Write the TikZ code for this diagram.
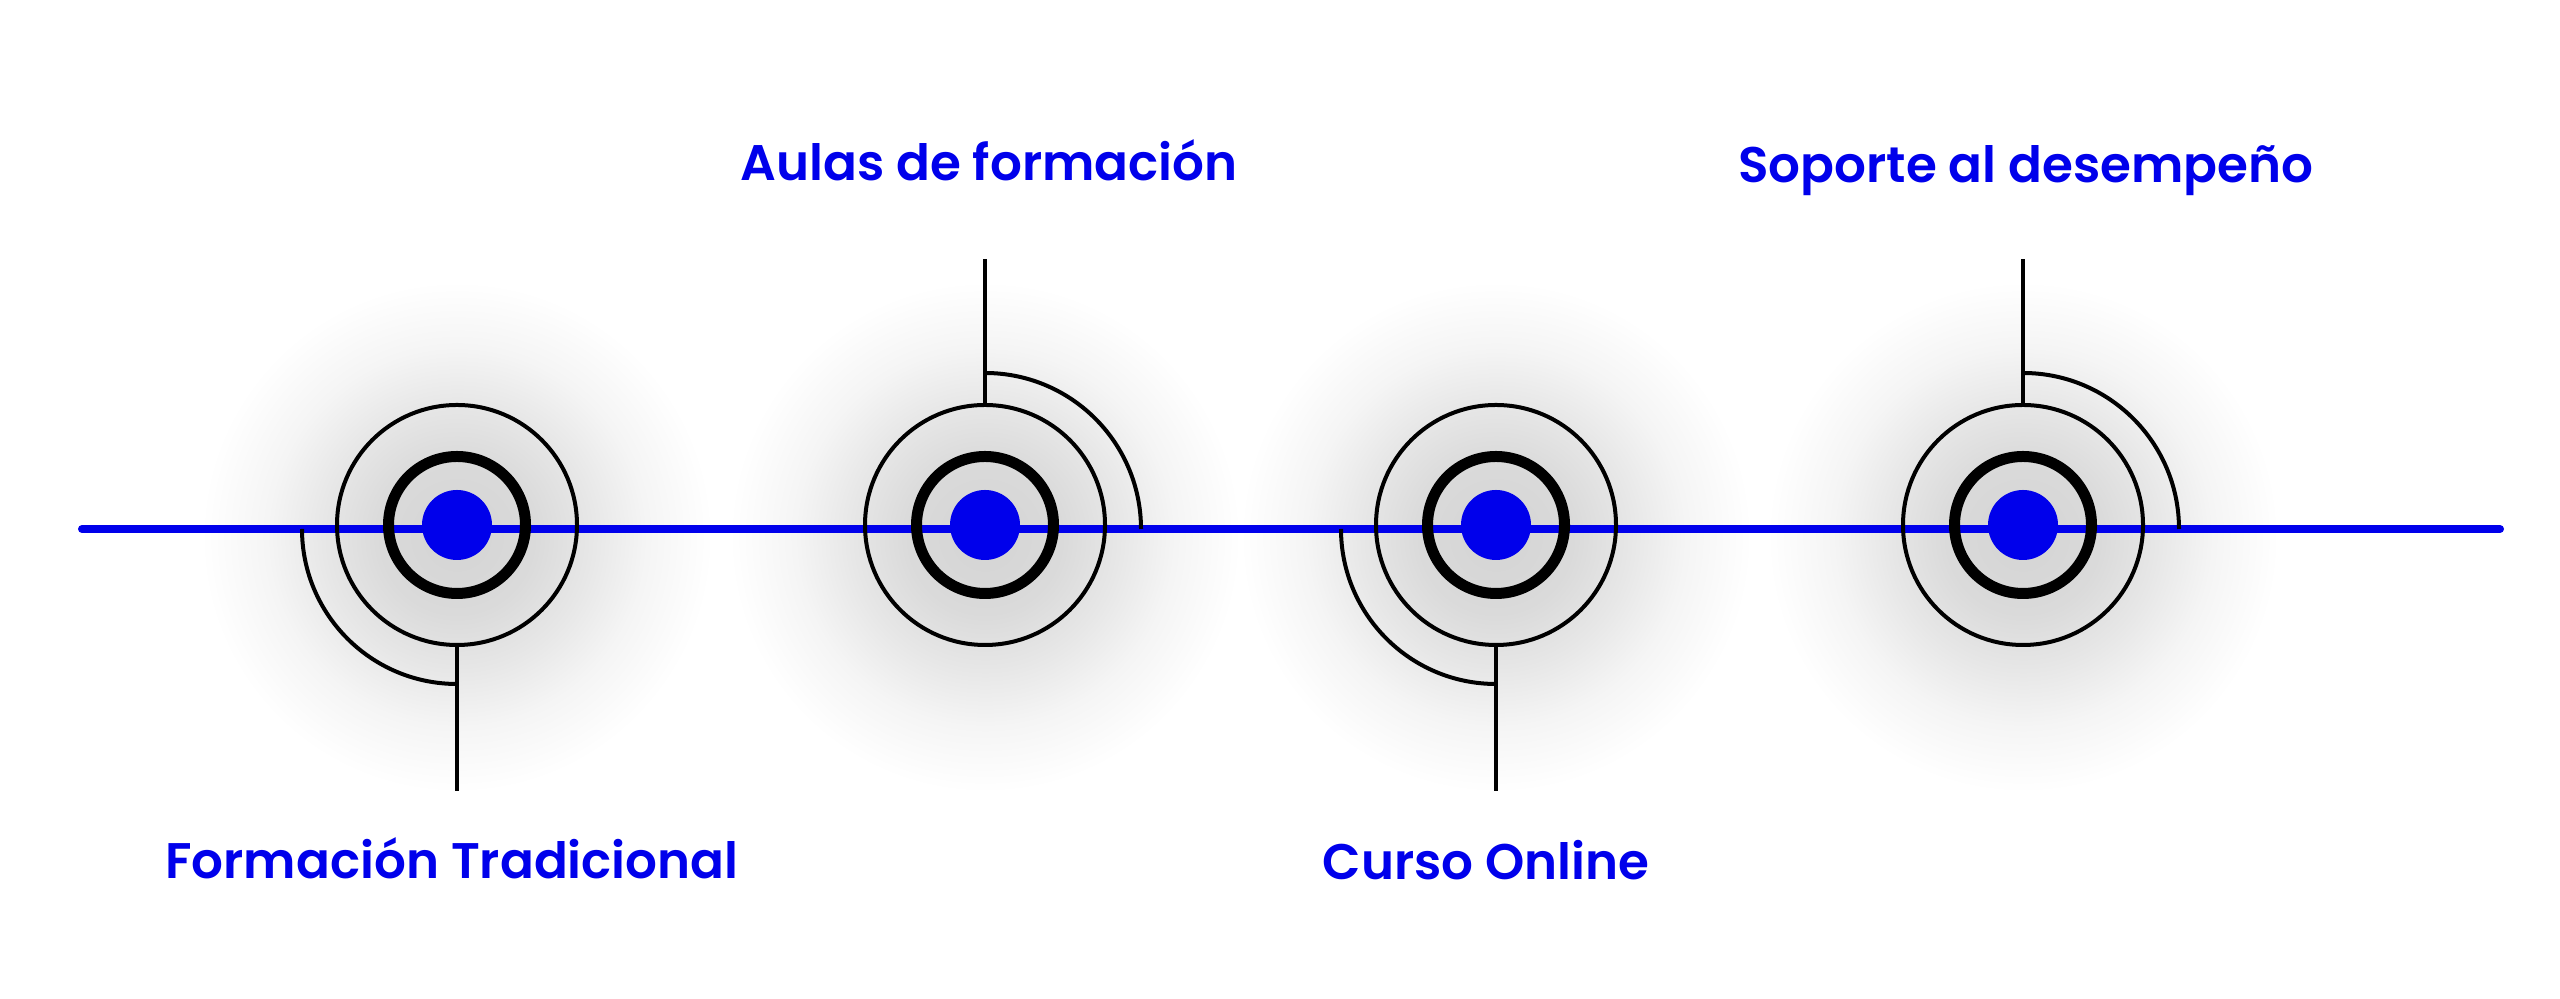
\documentclass[tikz,border=0pt]{standalone}
\usepackage{fontspec}
\newfontfamily\labfont{Poppins SemiBold}
\definecolor{tblue}{RGB}{0,0,235}
\definecolor{g0}{gray}{0.83}
\definecolor{g1}{gray}{0.855}
\definecolor{g2}{gray}{0.905}
\definecolor{g3}{gray}{0.96}
\pgfdeclareradialshading{glow}{\pgfpoint{0bp}{0bp}}{color(0bp)=(g0); color(7.5bp)=(g1); color(13bp)=(g2); color(18.5bp)=(g3); color(25bp)=(white); color(50bp)=(white)}
\begin{document}
\begin{tikzpicture}[x=0.5pt,y=0.5pt,
  glowdisc/.style={shading=glow},
  outerring/.style={circle, draw=black, line width=2pt, minimum size=120pt, inner sep=0pt},
  thickring/.style={circle, draw=black, line width=5.5pt, minimum size=68.5pt, inner sep=0pt},
  dot/.style={circle, fill=tblue, minimum size=35pt, inner sep=0pt},
  wire/.style={draw=black, line width=2pt},
  axis/.style={draw=tblue, line width=4pt, line cap=round},
  lab/.style={text=tblue, font=\labfont\fontsize{25pt}{30pt}\selectfont, anchor=base, inner sep=0pt}]
\useasboundingbox (0,0) rectangle (2560,999);
\fill[white] (0,0) rectangle (2560,999);
% glows
\foreach \x in {457,985,1496,2023}{
  \shade[glowdisc] (\x,462) circle[radius=128pt];
}
% axis
\coordinate (la) at (82,470);
\coordinate (lb) at (2500,470);
\draw[axis] (la) -- (lb);
% targets
\foreach \i/\x in {1/457,2/985,3/1496,4/2023}{
  \node[outerring] (o\i) at (\x,474) {};
  \node[thickring] (r\i) at (\x,474) {};
  \node[dot] (d\i) at (\x,474) {};
}
% stems and arcs
\coordinate (s1) at (457,208);
\coordinate (s2) at (985,740);
\coordinate (s3) at (1496,208);
\coordinate (s4) at (2023,740);
\draw[wire] (o1.south) -- (s1);
\draw[wire] (o2.north) -- (s2);
\draw[wire] (o3.south) -- (s3);
\draw[wire] (o4.north) -- (s4);
\coordinate (a1) at (302,470);
\coordinate (a2) at (1141,470);
\coordinate (a3) at (1341,470);
\coordinate (a4) at (2179,470);
\draw[wire] (a1) arc[start angle=180, end angle=270, radius=77.5pt];
\draw[wire] (a2) arc[start angle=0, end angle=90, radius=78pt];
\draw[wire] (a3) arc[start angle=180, end angle=270, radius=77.5pt];
\draw[wire] (a4) arc[start angle=0, end angle=90, radius=78pt];
% labels
\node[lab] (t1) at (452,120) {Formación Tradicional};
\node[lab] (t2) at (989,818) {Aulas de formación};
\node[lab] (t3) at (1486,119) {Curso Online};
\node[lab] (t4) at (2026,816) {Soporte al desempeño};
\end{tikzpicture}
\end{document}
